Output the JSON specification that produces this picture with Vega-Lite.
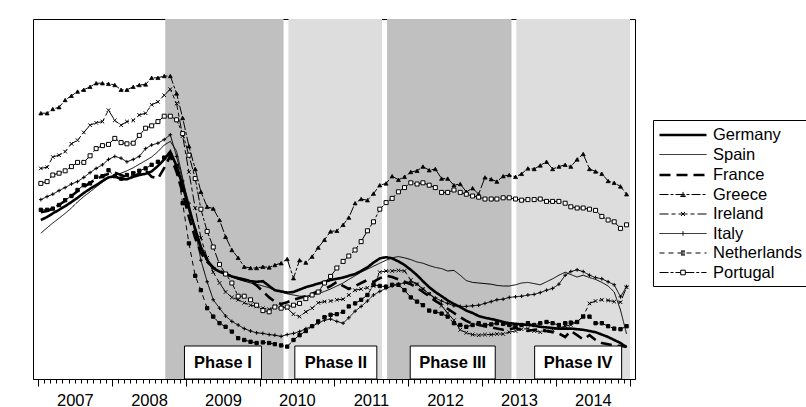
{
"$schema": "https://vega.github.io/schema/vega-lite/v6.json",
"width": 602, "height": 360,
"autosize": {"type": "none"},
"padding": {"left": 33, "top": 19, "right": 171, "bottom": 28},
"background": "white",
"config": {
  "view": {"stroke": "black", "strokeWidth": 1},
  "font": "Liberation Sans",
  "axis": {"labelFont": "Liberation Sans", "labelFontSize": 16.5, "labelColor": "black", "tickColor": "black", "domainColor": "black", "grid": false},
  "legend": {"orient": "none", "legendX": 620, "legendY": 101, "title": null,
       "labelFontSize": 16.5, "labelFont": "Liberation Sans", "labelColor": "black",
       "symbolSize": 289, "symbolOffset": 0, "labelOffset": 35, "padding": 5, "rowPadding": 1.5,
       "strokeColor": "black", "fillColor": "white", "symbolOpacity": 1, "symbolStrokeColor": "black", "symbolFillColor": "transparent"}
},
"datasets": {
"phases": [
 {"name": "Phase I", "kind": "dark", "start": "2008-09-20", "end": "2010-04-27", "mid": "2009-07-02"},
 {"name": "Phase II", "kind": "light", "start": "2010-05-21", "end": "2011-08-26", "mid": "2011-01-10"},
 {"name": "Phase III", "kind": "dark", "start": "2011-09-20", "end": "2013-05-26", "mid": "2012-08-09"},
 {"name": "Phase IV", "kind": "light", "start": "2013-06-19", "end": "2015-01-01", "mid": "2014-04-20"}
],
"series": [
{"c":"Germany","d":"2007-01-15","v":4.65},{"c":"Germany","d":"2007-02-15","v":4.70},{"c":"Germany","d":"2007-03-15","v":4.76},{"c":"Germany","d":"2007-04-15","v":4.82},{"c":"Germany","d":"2007-05-15","v":4.88},{"c":"Germany","d":"2007-06-15","v":4.95},{"c":"Germany","d":"2007-07-15","v":5.02},{"c":"Germany","d":"2007-08-15","v":5.10},{"c":"Germany","d":"2007-09-15","v":5.17},{"c":"Germany","d":"2007-10-15","v":5.23},{"c":"Germany","d":"2007-11-15","v":5.30},{"c":"Germany","d":"2007-12-15","v":5.36},
{"c":"Germany","d":"2008-01-15","v":5.38},{"c":"Germany","d":"2008-02-15","v":5.33},{"c":"Germany","d":"2008-03-15","v":5.33},{"c":"Germany","d":"2008-04-15","v":5.37},{"c":"Germany","d":"2008-05-15","v":5.40},{"c":"Germany","d":"2008-06-15","v":5.42},{"c":"Germany","d":"2008-07-15","v":5.46},{"c":"Germany","d":"2008-08-15","v":5.55},{"c":"Germany","d":"2008-09-15","v":5.66},{"c":"Germany","d":"2008-10-15","v":5.79},{"c":"Germany","d":"2008-11-15","v":5.55},{"c":"Germany","d":"2008-12-15","v":5.22},
{"c":"Germany","d":"2009-01-15","v":4.84},{"c":"Germany","d":"2009-02-15","v":4.50},{"c":"Germany","d":"2009-03-15","v":4.20},{"c":"Germany","d":"2009-04-15","v":3.98},{"c":"Germany","d":"2009-05-15","v":3.85},{"c":"Germany","d":"2009-06-15","v":3.79},{"c":"Germany","d":"2009-07-15","v":3.75},{"c":"Germany","d":"2009-08-15","v":3.71},{"c":"Germany","d":"2009-09-15","v":3.68},{"c":"Germany","d":"2009-10-15","v":3.66},{"c":"Germany","d":"2009-11-15","v":3.63},{"c":"Germany","d":"2009-12-15","v":3.62},
{"c":"Germany","d":"2010-01-15","v":3.63},{"c":"Germany","d":"2010-02-15","v":3.55},{"c":"Germany","d":"2010-03-15","v":3.48},{"c":"Germany","d":"2010-04-15","v":3.46},{"c":"Germany","d":"2010-05-15","v":3.44},{"c":"Germany","d":"2010-06-15","v":3.45},{"c":"Germany","d":"2010-07-15","v":3.49},{"c":"Germany","d":"2010-08-15","v":3.53},{"c":"Germany","d":"2010-09-15","v":3.56},{"c":"Germany","d":"2010-10-15","v":3.59},{"c":"Germany","d":"2010-11-15","v":3.62},{"c":"Germany","d":"2010-12-15","v":3.65},
{"c":"Germany","d":"2011-01-15","v":3.67},{"c":"Germany","d":"2011-02-15","v":3.69},{"c":"Germany","d":"2011-03-15","v":3.72},{"c":"Germany","d":"2011-04-15","v":3.75},{"c":"Germany","d":"2011-05-15","v":3.80},{"c":"Germany","d":"2011-06-15","v":3.86},{"c":"Germany","d":"2011-07-15","v":3.94},{"c":"Germany","d":"2011-08-15","v":4.01},{"c":"Germany","d":"2011-09-15","v":4.03},{"c":"Germany","d":"2011-10-15","v":4.01},{"c":"Germany","d":"2011-11-15","v":3.96},{"c":"Germany","d":"2011-12-15","v":3.90},
{"c":"Germany","d":"2012-01-15","v":3.82},{"c":"Germany","d":"2012-02-15","v":3.73},{"c":"Germany","d":"2012-03-15","v":3.63},{"c":"Germany","d":"2012-04-15","v":3.53},{"c":"Germany","d":"2012-05-15","v":3.45},{"c":"Germany","d":"2012-06-15","v":3.38},{"c":"Germany","d":"2012-07-15","v":3.31},{"c":"Germany","d":"2012-08-15","v":3.25},{"c":"Germany","d":"2012-09-15","v":3.20},{"c":"Germany","d":"2012-10-15","v":3.14},{"c":"Germany","d":"2012-11-15","v":3.10},{"c":"Germany","d":"2012-12-15","v":3.05},
{"c":"Germany","d":"2013-01-15","v":3.02},{"c":"Germany","d":"2013-02-15","v":3.00},{"c":"Germany","d":"2013-03-15","v":2.98},{"c":"Germany","d":"2013-04-15","v":2.95},{"c":"Germany","d":"2013-05-15","v":2.93},{"c":"Germany","d":"2013-06-15","v":2.92},{"c":"Germany","d":"2013-07-15","v":2.91},{"c":"Germany","d":"2013-08-15","v":2.90},{"c":"Germany","d":"2013-09-15","v":2.89},{"c":"Germany","d":"2013-10-15","v":2.87},{"c":"Germany","d":"2013-11-15","v":2.86},{"c":"Germany","d":"2013-12-15","v":2.85},
{"c":"Germany","d":"2014-01-15","v":2.84},{"c":"Germany","d":"2014-02-15","v":2.84},{"c":"Germany","d":"2014-03-15","v":2.84},{"c":"Germany","d":"2014-04-15","v":2.83},{"c":"Germany","d":"2014-05-15","v":2.82},{"c":"Germany","d":"2014-06-15","v":2.80},{"c":"Germany","d":"2014-07-15","v":2.78},{"c":"Germany","d":"2014-08-15","v":2.74},{"c":"Germany","d":"2014-09-15","v":2.70},{"c":"Germany","d":"2014-10-15","v":2.65},{"c":"Germany","d":"2014-11-15","v":2.60},{"c":"Germany","d":"2014-12-15","v":2.53},
{"c":"Spain","d":"2007-01-15","v":4.43},{"c":"Spain","d":"2007-02-15","v":4.52},{"c":"Spain","d":"2007-03-15","v":4.60},{"c":"Spain","d":"2007-04-15","v":4.68},{"c":"Spain","d":"2007-05-15","v":4.76},{"c":"Spain","d":"2007-06-15","v":4.85},{"c":"Spain","d":"2007-07-15","v":4.95},{"c":"Spain","d":"2007-08-15","v":5.04},{"c":"Spain","d":"2007-09-15","v":5.12},{"c":"Spain","d":"2007-10-15","v":5.20},{"c":"Spain","d":"2007-11-15","v":5.28},{"c":"Spain","d":"2007-12-15","v":5.35},
{"c":"Spain","d":"2008-01-15","v":5.40},{"c":"Spain","d":"2008-02-15","v":5.43},{"c":"Spain","d":"2008-03-15","v":5.47},{"c":"Spain","d":"2008-04-15","v":5.52},{"c":"Spain","d":"2008-05-15","v":5.58},{"c":"Spain","d":"2008-06-15","v":5.64},{"c":"Spain","d":"2008-07-15","v":5.70},{"c":"Spain","d":"2008-08-15","v":5.79},{"c":"Spain","d":"2008-09-15","v":5.90},{"c":"Spain","d":"2008-10-15","v":5.96},{"c":"Spain","d":"2008-11-15","v":5.80},{"c":"Spain","d":"2008-12-15","v":5.35},
{"c":"Spain","d":"2009-01-15","v":4.85},{"c":"Spain","d":"2009-02-15","v":4.45},{"c":"Spain","d":"2009-03-15","v":4.15},{"c":"Spain","d":"2009-04-15","v":3.97},{"c":"Spain","d":"2009-05-15","v":3.86},{"c":"Spain","d":"2009-06-15","v":3.79},{"c":"Spain","d":"2009-07-15","v":3.74},{"c":"Spain","d":"2009-08-15","v":3.70},{"c":"Spain","d":"2009-09-15","v":3.66},{"c":"Spain","d":"2009-10-15","v":3.63},{"c":"Spain","d":"2009-11-15","v":3.60},{"c":"Spain","d":"2009-12-15","v":3.58},
{"c":"Spain","d":"2010-01-15","v":3.55},{"c":"Spain","d":"2010-02-15","v":3.52},{"c":"Spain","d":"2010-03-15","v":3.48},{"c":"Spain","d":"2010-04-15","v":3.45},{"c":"Spain","d":"2010-05-15","v":3.42},{"c":"Spain","d":"2010-06-15","v":3.40},{"c":"Spain","d":"2010-07-15","v":3.38},{"c":"Spain","d":"2010-08-15","v":3.38},{"c":"Spain","d":"2010-09-15","v":3.40},{"c":"Spain","d":"2010-10-15","v":3.42},{"c":"Spain","d":"2010-11-15","v":3.46},{"c":"Spain","d":"2010-12-15","v":3.50},
{"c":"Spain","d":"2011-01-15","v":3.55},{"c":"Spain","d":"2011-02-15","v":3.60},{"c":"Spain","d":"2011-03-15","v":3.66},{"c":"Spain","d":"2011-04-15","v":3.72},{"c":"Spain","d":"2011-05-15","v":3.78},{"c":"Spain","d":"2011-06-15","v":3.83},{"c":"Spain","d":"2011-07-15","v":3.88},{"c":"Spain","d":"2011-08-15","v":3.93},{"c":"Spain","d":"2011-09-15","v":3.98},{"c":"Spain","d":"2011-10-15","v":4.02},{"c":"Spain","d":"2011-11-15","v":4.04},{"c":"Spain","d":"2011-12-15","v":4.02},
{"c":"Spain","d":"2012-01-15","v":3.99},{"c":"Spain","d":"2012-02-15","v":3.95},{"c":"Spain","d":"2012-03-15","v":3.93},{"c":"Spain","d":"2012-04-15","v":3.89},{"c":"Spain","d":"2012-05-15","v":3.86},{"c":"Spain","d":"2012-06-15","v":3.84},{"c":"Spain","d":"2012-07-15","v":3.80},{"c":"Spain","d":"2012-08-15","v":3.81},{"c":"Spain","d":"2012-09-15","v":3.73},{"c":"Spain","d":"2012-10-15","v":3.64},{"c":"Spain","d":"2012-11-15","v":3.61},{"c":"Spain","d":"2012-12-15","v":3.60},
{"c":"Spain","d":"2013-01-15","v":3.59},{"c":"Spain","d":"2013-02-15","v":3.58},{"c":"Spain","d":"2013-03-15","v":3.56},{"c":"Spain","d":"2013-04-15","v":3.55},{"c":"Spain","d":"2013-05-15","v":3.55},{"c":"Spain","d":"2013-06-15","v":3.57},{"c":"Spain","d":"2013-07-15","v":3.60},{"c":"Spain","d":"2013-08-15","v":3.61},{"c":"Spain","d":"2013-09-15","v":3.59},{"c":"Spain","d":"2013-10-15","v":3.57},{"c":"Spain","d":"2013-11-15","v":3.62},{"c":"Spain","d":"2013-12-15","v":3.67},
{"c":"Spain","d":"2014-01-15","v":3.73},{"c":"Spain","d":"2014-02-15","v":3.78},{"c":"Spain","d":"2014-03-15","v":3.74},{"c":"Spain","d":"2014-04-15","v":3.70},{"c":"Spain","d":"2014-05-15","v":3.73},{"c":"Spain","d":"2014-06-15","v":3.69},{"c":"Spain","d":"2014-07-15","v":3.66},{"c":"Spain","d":"2014-08-15","v":3.61},{"c":"Spain","d":"2014-09-15","v":3.55},{"c":"Spain","d":"2014-10-15","v":3.45},{"c":"Spain","d":"2014-11-15","v":3.15},{"c":"Spain","d":"2014-12-15","v":2.75},
{"c":"France","d":"2007-01-15","v":4.78},{"c":"France","d":"2007-02-15","v":4.80},{"c":"France","d":"2007-03-15","v":4.84},{"c":"France","d":"2007-04-15","v":4.90},{"c":"France","d":"2007-05-15","v":4.97},{"c":"France","d":"2007-06-15","v":5.05},{"c":"France","d":"2007-07-15","v":5.13},{"c":"France","d":"2007-08-15","v":5.20},{"c":"France","d":"2007-09-15","v":5.27},{"c":"France","d":"2007-10-15","v":5.33},{"c":"France","d":"2007-11-15","v":5.38},{"c":"France","d":"2007-12-15","v":5.42},
{"c":"France","d":"2008-01-15","v":5.44},{"c":"France","d":"2008-02-15","v":5.40},{"c":"France","d":"2008-03-15","v":5.36},{"c":"France","d":"2008-04-15","v":5.38},{"c":"France","d":"2008-05-15","v":5.42},{"c":"France","d":"2008-06-15","v":5.48},{"c":"France","d":"2008-07-15","v":5.37},{"c":"France","d":"2008-08-15","v":5.34},{"c":"France","d":"2008-09-15","v":5.52},{"c":"France","d":"2008-10-15","v":5.72},{"c":"France","d":"2008-11-15","v":5.45},{"c":"France","d":"2008-12-15","v":5.10},
{"c":"France","d":"2009-01-15","v":4.70},{"c":"France","d":"2009-02-15","v":4.35},{"c":"France","d":"2009-03-15","v":4.10},{"c":"France","d":"2009-04-15","v":3.95},{"c":"France","d":"2009-05-15","v":3.86},{"c":"France","d":"2009-06-15","v":3.80},{"c":"France","d":"2009-07-15","v":3.75},{"c":"France","d":"2009-08-15","v":3.71},{"c":"France","d":"2009-09-15","v":3.68},{"c":"France","d":"2009-10-15","v":3.65},{"c":"France","d":"2009-11-15","v":3.63},{"c":"France","d":"2009-12-15","v":3.56},
{"c":"France","d":"2010-01-15","v":3.46},{"c":"France","d":"2010-02-15","v":3.36},{"c":"France","d":"2010-03-15","v":3.29},{"c":"France","d":"2010-04-15","v":3.25},{"c":"France","d":"2010-05-15","v":3.28},{"c":"France","d":"2010-06-15","v":3.32},{"c":"France","d":"2010-07-15","v":3.35},{"c":"France","d":"2010-08-15","v":3.38},{"c":"France","d":"2010-09-15","v":3.42},{"c":"France","d":"2010-10-15","v":3.46},{"c":"France","d":"2010-11-15","v":3.50},{"c":"France","d":"2010-12-15","v":3.55},
{"c":"France","d":"2011-01-15","v":3.62},{"c":"France","d":"2011-02-15","v":3.55},{"c":"France","d":"2011-03-15","v":3.50},{"c":"France","d":"2011-04-15","v":3.55},{"c":"France","d":"2011-05-15","v":3.60},{"c":"France","d":"2011-06-15","v":3.65},{"c":"France","d":"2011-07-15","v":3.62},{"c":"France","d":"2011-08-15","v":3.68},{"c":"France","d":"2011-09-15","v":3.72},{"c":"France","d":"2011-10-15","v":3.70},{"c":"France","d":"2011-11-15","v":3.66},{"c":"France","d":"2011-12-15","v":3.62},
{"c":"France","d":"2012-01-15","v":3.58},{"c":"France","d":"2012-02-15","v":3.52},{"c":"France","d":"2012-03-15","v":3.45},{"c":"France","d":"2012-04-15","v":3.38},{"c":"France","d":"2012-05-15","v":3.30},{"c":"France","d":"2012-06-15","v":3.24},{"c":"France","d":"2012-07-15","v":3.17},{"c":"France","d":"2012-08-15","v":3.10},{"c":"France","d":"2012-09-15","v":3.03},{"c":"France","d":"2012-10-15","v":2.97},{"c":"France","d":"2012-11-15","v":2.92},{"c":"France","d":"2012-12-15","v":2.90},
{"c":"France","d":"2013-01-15","v":2.88},{"c":"France","d":"2013-02-15","v":2.86},{"c":"France","d":"2013-03-15","v":2.84},{"c":"France","d":"2013-04-15","v":2.82},{"c":"France","d":"2013-05-15","v":2.83},{"c":"France","d":"2013-06-15","v":2.85},{"c":"France","d":"2013-07-15","v":2.82},{"c":"France","d":"2013-08-15","v":2.80},{"c":"France","d":"2013-09-15","v":2.82},{"c":"France","d":"2013-10-15","v":2.83},{"c":"France","d":"2013-11-15","v":2.80},{"c":"France","d":"2013-12-15","v":2.78},
{"c":"France","d":"2014-01-15","v":2.76},{"c":"France","d":"2014-02-15","v":2.70},{"c":"France","d":"2014-03-15","v":2.80},{"c":"France","d":"2014-04-15","v":2.73},{"c":"France","d":"2014-05-15","v":2.66},{"c":"France","d":"2014-06-15","v":2.73},{"c":"France","d":"2014-07-15","v":2.65},{"c":"France","d":"2014-08-15","v":2.60},{"c":"France","d":"2014-09-15","v":2.58},{"c":"France","d":"2014-10-15","v":2.56},{"c":"France","d":"2014-11-15","v":2.55},{"c":"France","d":"2014-12-15","v":2.54},
{"c":"Greece","d":"2007-01-15","v":6.43},{"c":"Greece","d":"2007-02-15","v":6.43},{"c":"Greece","d":"2007-03-15","v":6.50},{"c":"Greece","d":"2007-04-15","v":6.53},{"c":"Greece","d":"2007-05-15","v":6.65},{"c":"Greece","d":"2007-06-15","v":6.72},{"c":"Greece","d":"2007-07-15","v":6.79},{"c":"Greece","d":"2007-08-15","v":6.82},{"c":"Greece","d":"2007-09-15","v":6.87},{"c":"Greece","d":"2007-10-15","v":6.93},{"c":"Greece","d":"2007-11-15","v":6.93},{"c":"Greece","d":"2007-12-15","v":6.92},
{"c":"Greece","d":"2008-01-15","v":6.90},{"c":"Greece","d":"2008-02-15","v":6.82},{"c":"Greece","d":"2008-03-15","v":6.82},{"c":"Greece","d":"2008-04-15","v":6.87},{"c":"Greece","d":"2008-05-15","v":6.90},{"c":"Greece","d":"2008-06-15","v":6.91},{"c":"Greece","d":"2008-07-15","v":7.02},{"c":"Greece","d":"2008-08-15","v":7.02},{"c":"Greece","d":"2008-09-15","v":7.05},{"c":"Greece","d":"2008-10-15","v":7.05},{"c":"Greece","d":"2008-11-15","v":6.76},{"c":"Greece","d":"2008-12-15","v":6.35},
{"c":"Greece","d":"2009-01-15","v":5.88},{"c":"Greece","d":"2009-02-15","v":5.50},{"c":"Greece","d":"2009-03-15","v":5.12},{"c":"Greece","d":"2009-04-15","v":4.87},{"c":"Greece","d":"2009-05-15","v":4.84},{"c":"Greece","d":"2009-06-15","v":4.65},{"c":"Greece","d":"2009-07-15","v":4.37},{"c":"Greece","d":"2009-08-15","v":4.15},{"c":"Greece","d":"2009-09-15","v":4.02},{"c":"Greece","d":"2009-10-15","v":3.87},{"c":"Greece","d":"2009-11-15","v":3.85},{"c":"Greece","d":"2009-12-15","v":3.85},
{"c":"Greece","d":"2010-01-15","v":3.87},{"c":"Greece","d":"2010-02-15","v":3.86},{"c":"Greece","d":"2010-03-15","v":3.90},{"c":"Greece","d":"2010-04-15","v":3.93},{"c":"Greece","d":"2010-05-15","v":4.00},{"c":"Greece","d":"2010-06-15","v":3.68},{"c":"Greece","d":"2010-07-15","v":3.98},{"c":"Greece","d":"2010-08-15","v":3.94},{"c":"Greece","d":"2010-09-15","v":4.04},{"c":"Greece","d":"2010-10-15","v":4.19},{"c":"Greece","d":"2010-11-15","v":4.32},{"c":"Greece","d":"2010-12-15","v":4.46},
{"c":"Greece","d":"2011-01-15","v":4.47},{"c":"Greece","d":"2011-02-15","v":4.57},{"c":"Greece","d":"2011-03-15","v":4.69},{"c":"Greece","d":"2011-04-15","v":4.93},{"c":"Greece","d":"2011-05-15","v":5.00},{"c":"Greece","d":"2011-06-15","v":4.98},{"c":"Greece","d":"2011-07-15","v":5.09},{"c":"Greece","d":"2011-08-15","v":5.23},{"c":"Greece","d":"2011-09-15","v":5.26},{"c":"Greece","d":"2011-10-15","v":5.38},{"c":"Greece","d":"2011-11-15","v":5.32},{"c":"Greece","d":"2011-12-15","v":5.37},
{"c":"Greece","d":"2012-01-15","v":5.45},{"c":"Greece","d":"2012-02-15","v":5.47},{"c":"Greece","d":"2012-03-15","v":5.54},{"c":"Greece","d":"2012-04-15","v":5.48},{"c":"Greece","d":"2012-05-15","v":5.50},{"c":"Greece","d":"2012-06-15","v":5.34},{"c":"Greece","d":"2012-07-15","v":5.34},{"c":"Greece","d":"2012-08-15","v":5.23},{"c":"Greece","d":"2012-09-15","v":5.25},{"c":"Greece","d":"2012-10-15","v":5.12},{"c":"Greece","d":"2012-11-15","v":5.18},{"c":"Greece","d":"2012-12-15","v":5.08},
{"c":"Greece","d":"2013-01-15","v":5.36},{"c":"Greece","d":"2013-02-15","v":5.33},{"c":"Greece","d":"2013-03-15","v":5.29},{"c":"Greece","d":"2013-04-15","v":5.38},{"c":"Greece","d":"2013-05-15","v":5.40},{"c":"Greece","d":"2013-06-15","v":5.37},{"c":"Greece","d":"2013-07-15","v":5.42},{"c":"Greece","d":"2013-08-15","v":5.51},{"c":"Greece","d":"2013-09-15","v":5.50},{"c":"Greece","d":"2013-10-15","v":5.56},{"c":"Greece","d":"2013-11-15","v":5.62},{"c":"Greece","d":"2013-12-15","v":5.50},
{"c":"Greece","d":"2014-01-15","v":5.54},{"c":"Greece","d":"2014-02-15","v":5.57},{"c":"Greece","d":"2014-03-15","v":5.54},{"c":"Greece","d":"2014-04-15","v":5.66},{"c":"Greece","d":"2014-05-15","v":5.75},{"c":"Greece","d":"2014-06-15","v":5.50},{"c":"Greece","d":"2014-07-15","v":5.46},{"c":"Greece","d":"2014-08-15","v":5.42},{"c":"Greece","d":"2014-09-15","v":5.30},{"c":"Greece","d":"2014-10-15","v":5.27},{"c":"Greece","d":"2014-11-15","v":5.21},{"c":"Greece","d":"2014-12-15","v":5.08},
{"c":"Ireland","d":"2007-01-15","v":5.51},{"c":"Ireland","d":"2007-02-15","v":5.53},{"c":"Ireland","d":"2007-03-15","v":5.70},{"c":"Ireland","d":"2007-04-15","v":5.73},{"c":"Ireland","d":"2007-05-15","v":5.79},{"c":"Ireland","d":"2007-06-15","v":5.92},{"c":"Ireland","d":"2007-07-15","v":5.98},{"c":"Ireland","d":"2007-08-15","v":6.11},{"c":"Ireland","d":"2007-09-15","v":6.23},{"c":"Ireland","d":"2007-10-15","v":6.27},{"c":"Ireland","d":"2007-11-15","v":6.29},{"c":"Ireland","d":"2007-12-15","v":6.48},
{"c":"Ireland","d":"2008-01-15","v":6.31},{"c":"Ireland","d":"2008-02-15","v":6.23},{"c":"Ireland","d":"2008-03-15","v":6.29},{"c":"Ireland","d":"2008-04-15","v":6.31},{"c":"Ireland","d":"2008-05-15","v":6.40},{"c":"Ireland","d":"2008-06-15","v":6.43},{"c":"Ireland","d":"2008-07-15","v":6.57},{"c":"Ireland","d":"2008-08-15","v":6.62},{"c":"Ireland","d":"2008-09-15","v":6.73},{"c":"Ireland","d":"2008-10-15","v":6.83},{"c":"Ireland","d":"2008-11-15","v":6.59},{"c":"Ireland","d":"2008-12-15","v":6.05},
{"c":"Ireland","d":"2009-01-15","v":5.45},{"c":"Ireland","d":"2009-02-15","v":4.85},{"c":"Ireland","d":"2009-03-15","v":4.35},{"c":"Ireland","d":"2009-04-15","v":4.02},{"c":"Ireland","d":"2009-05-15","v":3.78},{"c":"Ireland","d":"2009-06-15","v":3.60},{"c":"Ireland","d":"2009-07-15","v":3.45},{"c":"Ireland","d":"2009-08-15","v":3.36},{"c":"Ireland","d":"2009-09-15","v":3.32},{"c":"Ireland","d":"2009-10-15","v":3.27},{"c":"Ireland","d":"2009-11-15","v":3.23},{"c":"Ireland","d":"2009-12-15","v":3.21},
{"c":"Ireland","d":"2010-01-15","v":3.18},{"c":"Ireland","d":"2010-02-15","v":3.16},{"c":"Ireland","d":"2010-03-15","v":3.21},{"c":"Ireland","d":"2010-04-15","v":3.23},{"c":"Ireland","d":"2010-05-15","v":3.18},{"c":"Ireland","d":"2010-06-15","v":3.08},{"c":"Ireland","d":"2010-07-15","v":3.04},{"c":"Ireland","d":"2010-08-15","v":3.12},{"c":"Ireland","d":"2010-09-15","v":3.18},{"c":"Ireland","d":"2010-10-15","v":3.27},{"c":"Ireland","d":"2010-11-15","v":3.29},{"c":"Ireland","d":"2010-12-15","v":3.30},
{"c":"Ireland","d":"2011-01-15","v":3.32},{"c":"Ireland","d":"2011-02-15","v":3.33},{"c":"Ireland","d":"2011-03-15","v":3.40},{"c":"Ireland","d":"2011-04-15","v":3.48},{"c":"Ireland","d":"2011-05-15","v":3.50},{"c":"Ireland","d":"2011-06-15","v":3.52},{"c":"Ireland","d":"2011-07-15","v":3.55},{"c":"Ireland","d":"2011-08-15","v":3.78},{"c":"Ireland","d":"2011-09-15","v":3.80},{"c":"Ireland","d":"2011-10-15","v":3.80},{"c":"Ireland","d":"2011-11-15","v":3.81},{"c":"Ireland","d":"2011-12-15","v":3.80},
{"c":"Ireland","d":"2012-01-15","v":3.65},{"c":"Ireland","d":"2012-02-15","v":3.58},{"c":"Ireland","d":"2012-03-15","v":3.50},{"c":"Ireland","d":"2012-04-15","v":3.42},{"c":"Ireland","d":"2012-05-15","v":3.33},{"c":"Ireland","d":"2012-06-15","v":3.22},{"c":"Ireland","d":"2012-07-15","v":3.10},{"c":"Ireland","d":"2012-08-15","v":2.98},{"c":"Ireland","d":"2012-09-15","v":2.82},{"c":"Ireland","d":"2012-10-15","v":2.77},{"c":"Ireland","d":"2012-11-15","v":2.74},{"c":"Ireland","d":"2012-12-15","v":2.73},
{"c":"Ireland","d":"2013-01-15","v":2.74},{"c":"Ireland","d":"2013-02-15","v":2.74},{"c":"Ireland","d":"2013-03-15","v":2.75},{"c":"Ireland","d":"2013-04-15","v":2.75},{"c":"Ireland","d":"2013-05-15","v":2.78},{"c":"Ireland","d":"2013-06-15","v":2.80},{"c":"Ireland","d":"2013-07-15","v":2.83},{"c":"Ireland","d":"2013-08-15","v":2.84},{"c":"Ireland","d":"2013-09-15","v":2.80},{"c":"Ireland","d":"2013-10-15","v":2.78},{"c":"Ireland","d":"2013-11-15","v":2.80},{"c":"Ireland","d":"2013-12-15","v":2.82},
{"c":"Ireland","d":"2014-01-15","v":2.85},{"c":"Ireland","d":"2014-02-15","v":2.88},{"c":"Ireland","d":"2014-03-15","v":2.90},{"c":"Ireland","d":"2014-04-15","v":2.95},{"c":"Ireland","d":"2014-05-15","v":3.05},{"c":"Ireland","d":"2014-06-15","v":3.26},{"c":"Ireland","d":"2014-07-15","v":3.30},{"c":"Ireland","d":"2014-08-15","v":3.32},{"c":"Ireland","d":"2014-09-15","v":3.31},{"c":"Ireland","d":"2014-10-15","v":3.29},{"c":"Ireland","d":"2014-11-15","v":3.28},{"c":"Ireland","d":"2014-12-15","v":3.53},
{"c":"Italy","d":"2007-01-15","v":4.99},{"c":"Italy","d":"2007-02-15","v":5.04},{"c":"Italy","d":"2007-03-15","v":5.08},{"c":"Italy","d":"2007-04-15","v":5.14},{"c":"Italy","d":"2007-05-15","v":5.19},{"c":"Italy","d":"2007-06-15","v":5.25},{"c":"Italy","d":"2007-07-15","v":5.29},{"c":"Italy","d":"2007-08-15","v":5.36},{"c":"Italy","d":"2007-09-15","v":5.44},{"c":"Italy","d":"2007-10-15","v":5.51},{"c":"Italy","d":"2007-11-15","v":5.57},{"c":"Italy","d":"2007-12-15","v":5.66},
{"c":"Italy","d":"2008-01-15","v":5.71},{"c":"Italy","d":"2008-02-15","v":5.68},{"c":"Italy","d":"2008-03-15","v":5.62},{"c":"Italy","d":"2008-04-15","v":5.66},{"c":"Italy","d":"2008-05-15","v":5.71},{"c":"Italy","d":"2008-06-15","v":5.84},{"c":"Italy","d":"2008-07-15","v":5.90},{"c":"Italy","d":"2008-08-15","v":5.93},{"c":"Italy","d":"2008-09-15","v":5.99},{"c":"Italy","d":"2008-10-15","v":6.07},{"c":"Italy","d":"2008-11-15","v":5.71},{"c":"Italy","d":"2008-12-15","v":5.30},
{"c":"Italy","d":"2009-01-15","v":4.93},{"c":"Italy","d":"2009-02-15","v":4.48},{"c":"Italy","d":"2009-03-15","v":3.98},{"c":"Italy","d":"2009-04-15","v":3.62},{"c":"Italy","d":"2009-05-15","v":3.32},{"c":"Italy","d":"2009-06-15","v":3.18},{"c":"Italy","d":"2009-07-15","v":3.05},{"c":"Italy","d":"2009-08-15","v":2.96},{"c":"Italy","d":"2009-09-15","v":2.90},{"c":"Italy","d":"2009-10-15","v":2.84},{"c":"Italy","d":"2009-11-15","v":2.80},{"c":"Italy","d":"2009-12-15","v":2.77},
{"c":"Italy","d":"2010-01-15","v":2.76},{"c":"Italy","d":"2010-02-15","v":2.74},{"c":"Italy","d":"2010-03-15","v":2.73},{"c":"Italy","d":"2010-04-15","v":2.71},{"c":"Italy","d":"2010-05-15","v":2.74},{"c":"Italy","d":"2010-06-15","v":2.76},{"c":"Italy","d":"2010-07-15","v":2.79},{"c":"Italy","d":"2010-08-15","v":2.84},{"c":"Italy","d":"2010-09-15","v":2.88},{"c":"Italy","d":"2010-10-15","v":2.93},{"c":"Italy","d":"2010-11-15","v":2.98},{"c":"Italy","d":"2010-12-15","v":3.00},
{"c":"Italy","d":"2011-01-15","v":2.96},{"c":"Italy","d":"2011-02-15","v":2.93},{"c":"Italy","d":"2011-03-15","v":3.02},{"c":"Italy","d":"2011-04-15","v":3.13},{"c":"Italy","d":"2011-05-15","v":3.21},{"c":"Italy","d":"2011-06-15","v":3.30},{"c":"Italy","d":"2011-07-15","v":3.40},{"c":"Italy","d":"2011-08-15","v":3.46},{"c":"Italy","d":"2011-09-15","v":3.51},{"c":"Italy","d":"2011-10-15","v":3.55},{"c":"Italy","d":"2011-11-15","v":3.58},{"c":"Italy","d":"2011-12-15","v":3.60},
{"c":"Italy","d":"2012-01-15","v":3.62},{"c":"Italy","d":"2012-02-15","v":3.58},{"c":"Italy","d":"2012-03-15","v":3.50},{"c":"Italy","d":"2012-04-15","v":3.42},{"c":"Italy","d":"2012-05-15","v":3.35},{"c":"Italy","d":"2012-06-15","v":3.30},{"c":"Italy","d":"2012-07-15","v":3.26},{"c":"Italy","d":"2012-08-15","v":3.22},{"c":"Italy","d":"2012-09-15","v":3.21},{"c":"Italy","d":"2012-10-15","v":3.21},{"c":"Italy","d":"2012-11-15","v":3.22},{"c":"Italy","d":"2012-12-15","v":3.23},
{"c":"Italy","d":"2013-01-15","v":3.26},{"c":"Italy","d":"2013-02-15","v":3.29},{"c":"Italy","d":"2013-03-15","v":3.32},{"c":"Italy","d":"2013-04-15","v":3.33},{"c":"Italy","d":"2013-05-15","v":3.36},{"c":"Italy","d":"2013-06-15","v":3.37},{"c":"Italy","d":"2013-07-15","v":3.38},{"c":"Italy","d":"2013-08-15","v":3.40},{"c":"Italy","d":"2013-09-15","v":3.41},{"c":"Italy","d":"2013-10-15","v":3.44},{"c":"Italy","d":"2013-11-15","v":3.48},{"c":"Italy","d":"2013-12-15","v":3.51},
{"c":"Italy","d":"2014-01-15","v":3.58},{"c":"Italy","d":"2014-02-15","v":3.73},{"c":"Italy","d":"2014-03-15","v":3.79},{"c":"Italy","d":"2014-04-15","v":3.82},{"c":"Italy","d":"2014-05-15","v":3.79},{"c":"Italy","d":"2014-06-15","v":3.73},{"c":"Italy","d":"2014-07-15","v":3.69},{"c":"Italy","d":"2014-08-15","v":3.67},{"c":"Italy","d":"2014-09-15","v":3.62},{"c":"Italy","d":"2014-10-15","v":3.57},{"c":"Italy","d":"2014-11-15","v":3.37},{"c":"Italy","d":"2014-12-15","v":3.54},
{"c":"Netherlands","d":"2007-01-15","v":4.82},{"c":"Netherlands","d":"2007-02-15","v":4.82},{"c":"Netherlands","d":"2007-03-15","v":4.84},{"c":"Netherlands","d":"2007-04-15","v":4.90},{"c":"Netherlands","d":"2007-05-15","v":4.98},{"c":"Netherlands","d":"2007-06-15","v":5.05},{"c":"Netherlands","d":"2007-07-15","v":5.15},{"c":"Netherlands","d":"2007-08-15","v":5.23},{"c":"Netherlands","d":"2007-09-15","v":5.26},{"c":"Netherlands","d":"2007-10-15","v":5.37},{"c":"Netherlands","d":"2007-11-15","v":5.38},{"c":"Netherlands","d":"2007-12-15","v":5.48},
{"c":"Netherlands","d":"2008-01-15","v":5.38},{"c":"Netherlands","d":"2008-02-15","v":5.34},{"c":"Netherlands","d":"2008-03-15","v":5.40},{"c":"Netherlands","d":"2008-04-15","v":5.43},{"c":"Netherlands","d":"2008-05-15","v":5.47},{"c":"Netherlands","d":"2008-06-15","v":5.51},{"c":"Netherlands","d":"2008-07-15","v":5.57},{"c":"Netherlands","d":"2008-08-15","v":5.62},{"c":"Netherlands","d":"2008-09-15","v":5.69},{"c":"Netherlands","d":"2008-10-15","v":5.74},{"c":"Netherlands","d":"2008-11-15","v":5.55},{"c":"Netherlands","d":"2008-12-15","v":4.93},
{"c":"Netherlands","d":"2009-01-15","v":4.26},{"c":"Netherlands","d":"2009-02-15","v":3.72},{"c":"Netherlands","d":"2009-03-15","v":3.48},{"c":"Netherlands","d":"2009-04-15","v":3.18},{"c":"Netherlands","d":"2009-05-15","v":3.04},{"c":"Netherlands","d":"2009-06-15","v":2.93},{"c":"Netherlands","d":"2009-07-15","v":2.87},{"c":"Netherlands","d":"2009-08-15","v":2.79},{"c":"Netherlands","d":"2009-09-15","v":2.68},{"c":"Netherlands","d":"2009-10-15","v":2.65},{"c":"Netherlands","d":"2009-11-15","v":2.62},{"c":"Netherlands","d":"2009-12-15","v":2.60},
{"c":"Netherlands","d":"2010-01-15","v":2.61},{"c":"Netherlands","d":"2010-02-15","v":2.60},{"c":"Netherlands","d":"2010-03-15","v":2.58},{"c":"Netherlands","d":"2010-04-15","v":2.56},{"c":"Netherlands","d":"2010-05-15","v":2.54},{"c":"Netherlands","d":"2010-06-15","v":2.65},{"c":"Netherlands","d":"2010-07-15","v":2.73},{"c":"Netherlands","d":"2010-08-15","v":2.80},{"c":"Netherlands","d":"2010-09-15","v":2.88},{"c":"Netherlands","d":"2010-10-15","v":2.96},{"c":"Netherlands","d":"2010-11-15","v":3.03},{"c":"Netherlands","d":"2010-12-15","v":3.07},
{"c":"Netherlands","d":"2011-01-15","v":3.08},{"c":"Netherlands","d":"2011-02-15","v":3.12},{"c":"Netherlands","d":"2011-03-15","v":3.21},{"c":"Netherlands","d":"2011-04-15","v":3.26},{"c":"Netherlands","d":"2011-05-15","v":3.32},{"c":"Netherlands","d":"2011-06-15","v":3.40},{"c":"Netherlands","d":"2011-07-15","v":3.57},{"c":"Netherlands","d":"2011-08-15","v":3.55},{"c":"Netherlands","d":"2011-09-15","v":3.54},{"c":"Netherlands","d":"2011-10-15","v":3.57},{"c":"Netherlands","d":"2011-11-15","v":3.57},{"c":"Netherlands","d":"2011-12-15","v":3.48},
{"c":"Netherlands","d":"2012-01-15","v":3.36},{"c":"Netherlands","d":"2012-02-15","v":3.29},{"c":"Netherlands","d":"2012-03-15","v":3.23},{"c":"Netherlands","d":"2012-04-15","v":3.14},{"c":"Netherlands","d":"2012-05-15","v":3.12},{"c":"Netherlands","d":"2012-06-15","v":3.09},{"c":"Netherlands","d":"2012-07-15","v":3.04},{"c":"Netherlands","d":"2012-08-15","v":2.93},{"c":"Netherlands","d":"2012-09-15","v":2.90},{"c":"Netherlands","d":"2012-10-15","v":2.87},{"c":"Netherlands","d":"2012-11-15","v":2.90},{"c":"Netherlands","d":"2012-12-15","v":2.93},
{"c":"Netherlands","d":"2013-01-15","v":2.90},{"c":"Netherlands","d":"2013-02-15","v":2.91},{"c":"Netherlands","d":"2013-03-15","v":2.93},{"c":"Netherlands","d":"2013-04-15","v":2.92},{"c":"Netherlands","d":"2013-05-15","v":2.90},{"c":"Netherlands","d":"2013-06-15","v":2.87},{"c":"Netherlands","d":"2013-07-15","v":2.90},{"c":"Netherlands","d":"2013-08-15","v":2.93},{"c":"Netherlands","d":"2013-09-15","v":2.90},{"c":"Netherlands","d":"2013-10-15","v":2.93},{"c":"Netherlands","d":"2013-11-15","v":2.95},{"c":"Netherlands","d":"2013-12-15","v":2.93},
{"c":"Netherlands","d":"2014-01-15","v":2.90},{"c":"Netherlands","d":"2014-02-15","v":2.93},{"c":"Netherlands","d":"2014-03-15","v":2.94},{"c":"Netherlands","d":"2014-04-15","v":2.95},{"c":"Netherlands","d":"2014-05-15","v":3.04},{"c":"Netherlands","d":"2014-06-15","v":3.04},{"c":"Netherlands","d":"2014-07-15","v":2.93},{"c":"Netherlands","d":"2014-08-15","v":2.93},{"c":"Netherlands","d":"2014-09-15","v":2.88},{"c":"Netherlands","d":"2014-10-15","v":2.84},{"c":"Netherlands","d":"2014-11-15","v":2.83},{"c":"Netherlands","d":"2014-12-15","v":2.88},
{"c":"Portugal","d":"2007-01-15","v":5.26},{"c":"Portugal","d":"2007-02-15","v":5.29},{"c":"Portugal","d":"2007-03-15","v":5.40},{"c":"Portugal","d":"2007-04-15","v":5.43},{"c":"Portugal","d":"2007-05-15","v":5.47},{"c":"Portugal","d":"2007-06-15","v":5.54},{"c":"Portugal","d":"2007-07-15","v":5.61},{"c":"Portugal","d":"2007-08-15","v":5.61},{"c":"Portugal","d":"2007-09-15","v":5.72},{"c":"Portugal","d":"2007-10-15","v":5.84},{"c":"Portugal","d":"2007-11-15","v":5.89},{"c":"Portugal","d":"2007-12-15","v":5.91},
{"c":"Portugal","d":"2008-01-15","v":6.01},{"c":"Portugal","d":"2008-02-15","v":5.94},{"c":"Portugal","d":"2008-03-15","v":5.92},{"c":"Portugal","d":"2008-04-15","v":5.93},{"c":"Portugal","d":"2008-05-15","v":6.06},{"c":"Portugal","d":"2008-06-15","v":6.18},{"c":"Portugal","d":"2008-07-15","v":6.22},{"c":"Portugal","d":"2008-08-15","v":6.29},{"c":"Portugal","d":"2008-09-15","v":6.38},{"c":"Portugal","d":"2008-10-15","v":6.38},{"c":"Portugal","d":"2008-11-15","v":6.32},{"c":"Portugal","d":"2008-12-15","v":6.09},
{"c":"Portugal","d":"2009-01-15","v":5.73},{"c":"Portugal","d":"2009-02-15","v":5.34},{"c":"Portugal","d":"2009-03-15","v":4.83},{"c":"Portugal","d":"2009-04-15","v":4.46},{"c":"Portugal","d":"2009-05-15","v":4.20},{"c":"Portugal","d":"2009-06-15","v":3.91},{"c":"Portugal","d":"2009-07-15","v":3.75},{"c":"Portugal","d":"2009-08-15","v":3.60},{"c":"Portugal","d":"2009-09-15","v":3.38},{"c":"Portugal","d":"2009-10-15","v":3.38},{"c":"Portugal","d":"2009-11-15","v":3.32},{"c":"Portugal","d":"2009-12-15","v":3.23},
{"c":"Portugal","d":"2010-01-15","v":3.14},{"c":"Portugal","d":"2010-02-15","v":3.12},{"c":"Portugal","d":"2010-03-15","v":3.20},{"c":"Portugal","d":"2010-04-15","v":3.18},{"c":"Portugal","d":"2010-05-15","v":3.20},{"c":"Portugal","d":"2010-06-15","v":3.23},{"c":"Portugal","d":"2010-07-15","v":3.26},{"c":"Portugal","d":"2010-08-15","v":3.34},{"c":"Portugal","d":"2010-09-15","v":3.40},{"c":"Portugal","d":"2010-10-15","v":3.45},{"c":"Portugal","d":"2010-11-15","v":3.60},{"c":"Portugal","d":"2010-12-15","v":3.71},
{"c":"Portugal","d":"2011-01-15","v":3.85},{"c":"Portugal","d":"2011-02-15","v":3.96},{"c":"Portugal","d":"2011-03-15","v":4.05},{"c":"Portugal","d":"2011-04-15","v":4.15},{"c":"Portugal","d":"2011-05-15","v":4.29},{"c":"Portugal","d":"2011-06-15","v":4.47},{"c":"Portugal","d":"2011-07-15","v":4.62},{"c":"Portugal","d":"2011-08-15","v":4.83},{"c":"Portugal","d":"2011-09-15","v":4.94},{"c":"Portugal","d":"2011-10-15","v":5.01},{"c":"Portugal","d":"2011-11-15","v":5.12},{"c":"Portugal","d":"2011-12-15","v":5.19},
{"c":"Portugal","d":"2012-01-15","v":5.27},{"c":"Portugal","d":"2012-02-15","v":5.25},{"c":"Portugal","d":"2012-03-15","v":5.27},{"c":"Portugal","d":"2012-04-15","v":5.23},{"c":"Portugal","d":"2012-05-15","v":5.19},{"c":"Portugal","d":"2012-06-15","v":5.11},{"c":"Portugal","d":"2012-07-15","v":5.11},{"c":"Portugal","d":"2012-08-15","v":5.15},{"c":"Portugal","d":"2012-09-15","v":5.11},{"c":"Portugal","d":"2012-10-15","v":5.08},{"c":"Portugal","d":"2012-11-15","v":5.05},{"c":"Portugal","d":"2012-12-15","v":5.03},
{"c":"Portugal","d":"2013-01-15","v":5.00},{"c":"Portugal","d":"2013-02-15","v":5.00},{"c":"Portugal","d":"2013-03-15","v":5.00},{"c":"Portugal","d":"2013-04-15","v":5.02},{"c":"Portugal","d":"2013-05-15","v":5.02},{"c":"Portugal","d":"2013-06-15","v":5.00},{"c":"Portugal","d":"2013-07-15","v":4.98},{"c":"Portugal","d":"2013-08-15","v":4.99},{"c":"Portugal","d":"2013-09-15","v":4.99},{"c":"Portugal","d":"2013-10-15","v":5.00},{"c":"Portugal","d":"2013-11-15","v":4.96},{"c":"Portugal","d":"2013-12-15","v":4.96},
{"c":"Portugal","d":"2014-01-15","v":4.96},{"c":"Portugal","d":"2014-02-15","v":4.93},{"c":"Portugal","d":"2014-03-15","v":4.87},{"c":"Portugal","d":"2014-04-15","v":4.85},{"c":"Portugal","d":"2014-05-15","v":4.85},{"c":"Portugal","d":"2014-06-15","v":4.83},{"c":"Portugal","d":"2014-07-15","v":4.81},{"c":"Portugal","d":"2014-08-15","v":4.71},{"c":"Portugal","d":"2014-09-15","v":4.65},{"c":"Portugal","d":"2014-10-15","v":4.62},{"c":"Portugal","d":"2014-11-15","v":4.51},{"c":"Portugal","d":"2014-12-15","v":4.57}
]
},
"layer": [
 {
  "data": {"name": "phases"},
  "mark": {"type": "rect", "opacity": 1},
  "encoding": {
   "x": {"field": "start", "type": "temporal", "scale": {"type": "utc", "domain": [{"year": 2007, "month": 1, "date": 1, "utc": true}, {"year": 2015, "month": 1, "date": 1, "utc": true}], "nice": false},
     "axis": {"orient": "bottom", "title": null, "labels": false, "tickSize": 7, "domain": true, "grid": false,
       "values": [{"year": 2007, "month": 1, "date": 1, "utc": true}, {"year": 2008, "month": 1, "date": 1, "utc": true}, {"year": 2009, "month": 1, "date": 1, "utc": true}, {"year": 2010, "month": 1, "date": 1, "utc": true}, {"year": 2011, "month": 1, "date": 1, "utc": true}, {"year": 2012, "month": 1, "date": 1, "utc": true}, {"year": 2013, "month": 1, "date": 1, "utc": true}, {"year": 2014, "month": 1, "date": 1, "utc": true}, {"year": 2015, "month": 1, "date": 1, "utc": true}]}},
   "x2": {"field": "end"},
   "color": {"field": "kind", "type": "nominal", "scale": {"domain": ["dark", "light"], "range": ["#c0c0c0", "#dddddd"]}, "legend": null}
  }
 },
 {
  "data": {"name": "series"},
  "mark": {"type": "line", "color": "black", "strokeCap": "butt"},
  "encoding": {
   "x": {"field": "d", "type": "temporal", "scale": {"type": "utc", "domain": [{"year": 2007, "month": 1, "date": 1, "utc": true}, {"year": 2015, "month": 1, "date": 1, "utc": true}], "nice": false},
     "axis": {"orient": "bottom", "title": null, "labels": false, "domain": false, "grid": false, "tickSize": 4, "tickCount": {"interval": "month", "step": 1}}},
   "y": {"field": "v", "type": "quantitative", "scale": {"domain": [2, 8], "nice": false, "zero": false},
     "axis": {"title": null, "values": [2, 3, 4, 5, 6, 7, 8], "tickSize": 4, "labelPadding": 7, "labelOverlap": false, "labelFlush": false, "domain": true, "grid": false}},
   "strokeDash": {"field": "c", "type": "nominal",
     "scale": {"domain": ["Germany", "Spain", "France", "Greece", "Ireland", "Italy", "Netherlands", "Portugal"],
               "range": [[1, 0], [1, 0], [11, 6], [9, 2, 3, 2], [9, 3, 4, 3], [1, 0], [5, 4], [9, 2, 3, 2]]},
     "legend": {"orient": "none", "legendX": 620, "legendY": 101, "title": null}},
   "strokeWidth": {"field": "c", "type": "nominal",
     "scale": {"type": "ordinal", "domain": ["Germany", "Spain", "France", "Greece", "Ireland", "Italy", "Netherlands", "Portugal"],
               "range": [2.6, 1, 2.6, 1, 1, 1, 1, 1]},
     "legend": {"orient": "none", "legendX": 620, "legendY": 101, "title": null}}
  }
 },
 {
  "data": {"name": "series"},
  "transform": [{"filter": "datum.c === 'Greece'"}],
  "mark": {"type": "point", "shape": "triangle-up", "size": 16, "filled": true, "fill": "black", "stroke": "black", "strokeWidth": 0.8, "opacity": 1},
  "encoding": {
   "x": {"field": "d", "type": "temporal", "axis": null},
   "y": {"field": "v", "type": "quantitative", "axis": null}
  }
 },
 {
  "data": {"name": "series"},
  "transform": [{"filter": "datum.c === 'Ireland'"}],
  "mark": {"type": "point", "shape": "M-1,-1L1,1M-1,1L1,-1", "size": 13, "filled": false, "stroke": "black", "strokeWidth": 1, "opacity": 1},
  "encoding": {
   "x": {"field": "d", "type": "temporal", "axis": null},
   "y": {"field": "v", "type": "quantitative", "axis": null}
  }
 },
 {
  "data": {"name": "series"},
  "transform": [{"filter": "datum.c === 'Italy'"}],
  "mark": {"type": "point", "shape": "M-1,0H1M0,-1V1", "size": 14, "filled": false, "stroke": "black", "strokeWidth": 1, "opacity": 1},
  "encoding": {
   "x": {"field": "d", "type": "temporal", "axis": null},
   "y": {"field": "v", "type": "quantitative", "axis": null}
  }
 },
 {
  "data": {"name": "series"},
  "transform": [{"filter": "datum.c === 'Netherlands'"}],
  "mark": {"type": "point", "shape": "square", "size": 11, "filled": true, "fill": "black", "stroke": "black", "strokeWidth": 1, "opacity": 1},
  "encoding": {
   "x": {"field": "d", "type": "temporal", "axis": null},
   "y": {"field": "v", "type": "quantitative", "axis": null}
  }
 },
 {
  "data": {"name": "series"},
  "transform": [{"filter": "datum.c === 'Portugal'"}],
  "mark": {"type": "point", "shape": "square", "size": 16, "filled": true, "fill": "white", "stroke": "black", "strokeWidth": 1, "opacity": 1},
  "encoding": {
   "x": {"field": "d", "type": "temporal", "axis": null},
   "y": {"field": "v", "type": "quantitative", "axis": null}
  }
 },
 {
  "data": {"name": "series"},
  "mark": {"type": "point", "opacity": 0, "filled": false, "stroke": "black"},
  "encoding": {
   "x": {"field": "d", "type": "temporal", "axis": null},
   "y": {"field": "v", "type": "quantitative", "axis": null},
   "shape": {"field": "c", "type": "nominal",
     "scale": {"domain": ["Germany", "Spain", "France", "Greece", "Ireland", "Italy", "Netherlands", "Portugal"],
               "range": ["M-1,0H4.53", "M-1,0H4.53", "M-1,0H4.53",
                         "M-1,0H4.53M1.765,-0.3V0.24M1.645,-0.08V0.24M1.885,-0.08V0.24M1.525,0.13V0.24M2.005,0.13V0.24M1.465,0.24H2.065",
                         "M-1,0H4.53M1.525,-0.24L2.005,0.24M1.525,0.24L2.005,-0.24",
                         "M-1,0H4.53M1.765,-0.27V0.27",
                         "M-1,0H4.53M1.525,-0.24H2.005M1.525,-0.12H2.005M1.525,0.12H2.005M1.525,0.24H2.005",
                         "M-1,0H1.495M2.035,0H4.53M1.495,-0.27H2.035M2.035,-0.27V0.27M2.035,0.27H1.495M1.495,0.27V-0.27"]},
     "legend": {"orient": "none", "legendX": 620, "legendY": 101, "title": null}}
  }
 },
 {
  "data": {"name": "phases"},
  "mark": {"type": "bar", "fill": "white", "stroke": "black", "strokeWidth": 1},
  "encoding": {
   "x": {"field": "mid", "type": "temporal", "axis": null},
   "y": {"datum": 2, "type": "quantitative", "axis": null},
   "y2": {"datum": 2.55},
   "size": {"field": "name", "type": "nominal", "scale": {"type": "ordinal", "domain": ["Phase I", "Phase II", "Phase III", "Phase IV"], "range": [77, 82, 85, 87]}, "legend": null}
  }
 },
 {
  "data": {"name": "phases"},
  "mark": {"type": "text", "font": "Liberation Sans", "fontWeight": "bold", "fontSize": 16.5, "color": "black", "align": "center", "baseline": "middle"},
  "encoding": {
   "x": {"field": "mid", "type": "temporal",
     "axis": {"orient": "bottom", "title": null, "ticks": false, "tickSize": 0, "domain": false, "grid": false, "labels": true, "labelExpr": "utcFormat(datum.value, '%Y')", "labelPadding": 13, "labelOverlap": false, "labelFlush": false,
       "values": [{"year": 2007, "month": 7, "date": 2, "utc": true}, {"year": 2008, "month": 7, "date": 2, "utc": true}, {"year": 2009, "month": 7, "date": 2, "utc": true}, {"year": 2010, "month": 7, "date": 2, "utc": true}, {"year": 2011, "month": 7, "date": 2, "utc": true}, {"year": 2012, "month": 7, "date": 2, "utc": true}, {"year": 2013, "month": 7, "date": 2, "utc": true}, {"year": 2014, "month": 7, "date": 2, "utc": true}]}},
   "y": {"datum": 2.275, "type": "quantitative", "axis": null},
   "text": {"field": "name"}
  }
 }
],
"resolve": {"axis": {"x": "independent"}}
}
